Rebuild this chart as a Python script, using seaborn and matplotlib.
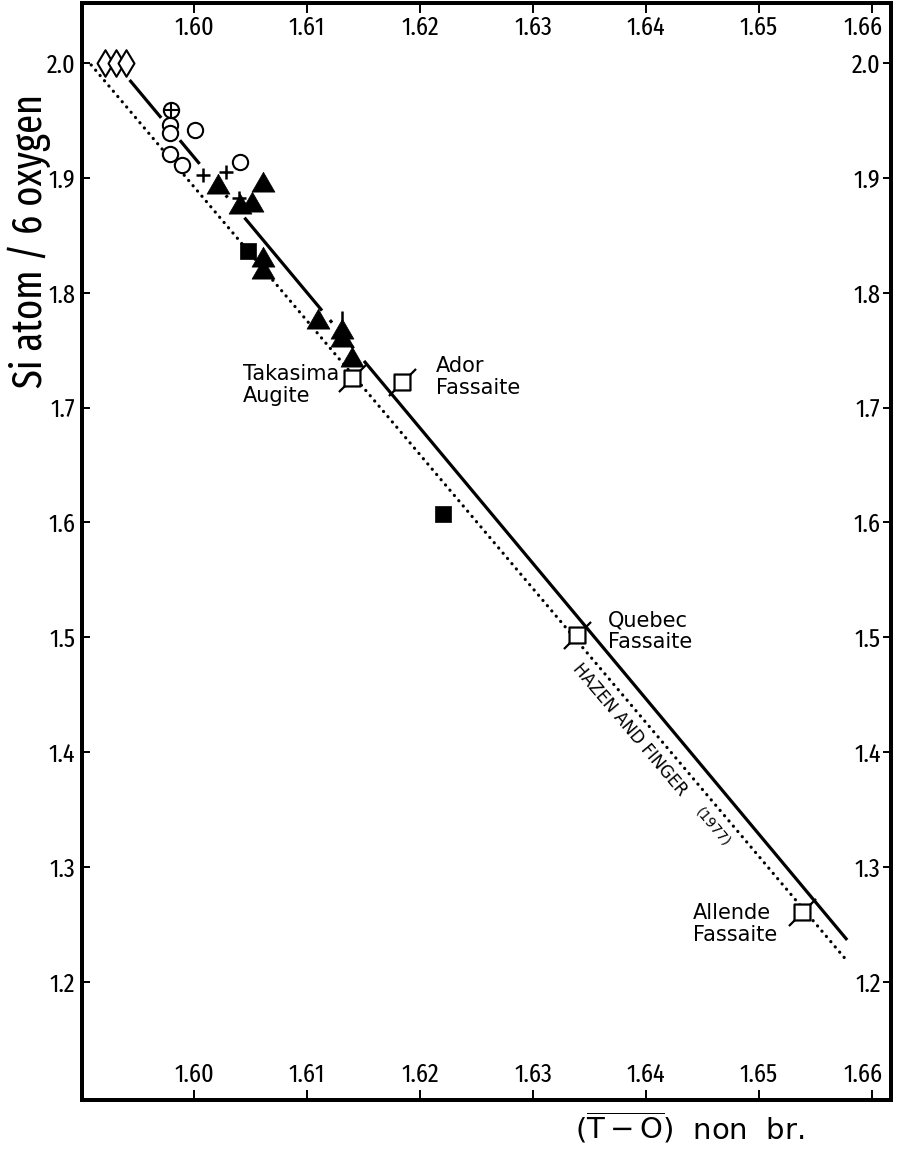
import os
import numpy as np
import pandas as pd
import matplotlib
matplotlib.use("Agg")
import matplotlib.pyplot as plt
from matplotlib import font_manager as fm
from matplotlib import transforms as mtrans
from matplotlib.path import Path
from matplotlib.markers import MarkerStyle
import seaborn as sns

# ---------------- data ----------------
# end-member (Si = 2.0) clinopyroxenes
diamond_x = [1.5921, 1.5931, 1.5940]
diamond_y = [2.000, 2.000, 2.000]
# open circles
circle_x = [1.5979, 1.5979, 1.6001, 1.5979, 1.5989, 1.6041]
circle_y = [1.946, 1.939, 1.942, 1.921, 1.911, 1.914]
# circle with cross
circplus_x = [1.5980]
circplus_y = [1.959]
# crosses
plus_x = [1.6008, 1.6028, 1.6040]
plus_y = [1.9025, 1.9054, 1.8822]
# single vertical bar
bar_x = [1.6131]
bar_y = [1.779]
# filled triangles
tri_x = [1.6021, 1.6061, 1.6041, 1.6051, 1.6061, 1.6061, 1.6110, 1.6131, 1.6131, 1.6140]
tri_y = [1.8923, 1.8938, 1.8749, 1.8764, 1.8285, 1.8184, 1.7748, 1.7661, 1.7589, 1.7415]
# filled squares
fsq_x = [1.6048, 1.6220]
fsq_y = [1.836, 1.607]
# named fassaites / augite (open squares)
named_labels = ["Takasima\nAugite", "Ador\nFassaite", "Quebec\nFassaite", "Allende\nFassaite"]
named_x = [1.6140, 1.6184, 1.6339, 1.6538]
named_y = [1.7255, 1.7226, 1.5021, 1.2613]
# regression line of this study and Hazen & Finger (1977) line
fit_x = [1.5943, 1.6578]
fit_y = [1.9852, 1.2366]
hf_x = [1.5909, 1.6576]
hf_y = [1.9983, 1.2206]
# axes ticks
x_ticks = [1.60, 1.61, 1.62, 1.63, 1.64, 1.65, 1.66]
x_ticklabels = ["1.60", "1.61", "1.62", "1.63", "1.64", "1.65", "1.66"]
y_ticks = [1.2, 1.3, 1.4, 1.5, 1.6, 1.7, 1.8, 1.9, 2.0]
y_ticklabels = ["1.2", "1.3", "1.4", "1.5", "1.6", "1.7", "1.8", "1.9", "2.0"]

# ---------------- style ----------------
sns.set_style("white")
plt.rcParams["font.family"] = ["DejaVu Sans"]
for key in ("text.color", "axes.labelcolor", "xtick.color", "ytick.color", "axes.edgecolor"):
    plt.rcParams[key] = "black"
plt.rcParams["mathtext.fontset"] = "dejavusans"
TXT = dict(fontfamily="DejaVu Sans", fontstretch="normal", color="black")


def narrow_font_file():
    """Return the narrowest regular-weight sans font file installed, if any."""
    skip = ("bold", "italic", "oblique", "light", "thin", "black", "medium", "heavy", "semibold")
    ranked = []
    for f in fm.fontManager.ttflist:
        base = os.path.basename(f.fname).lower()
        if any(w in base for w in skip) or "mono" in base or "serif" in base:
            continue
        if "extracondensed" in base or "ultracondensed" in base:
            rank = 0
        elif "narrow" in base:
            rank = 1
        elif "semicondensed" in base:
            rank = 3
        elif "condensed" in base:
            rank = 2 if "dejavu" not in base else 4
        else:
            continue
        ranked.append((rank, base, f.fname))
    if not ranked:
        return None, None
    ranked.sort()
    return ranked[0][2], ranked[0][0]


NARROW_FILE, NARROW_RANK = narrow_font_file()
very_narrow = NARROW_RANK is not None and NARROW_RANK <= 2


def narrow(size):
    if NARROW_FILE:
        return fm.FontProperties(fname=NARROW_FILE, size=size)
    return fm.FontProperties(family="DejaVu Sans", stretch="condensed", size=size)


tick_size = 19 if very_narrow else 17
ylabel_size = 30 if very_narrow else 25

fig = plt.figure(figsize=(8.97, 11.5), dpi=100)
W, H = 897.0, 1150.0
left_px, right_px, top_px, bot_px = 82, 891, 3, 1100
ax = fig.add_axes([left_px / W, 1 - bot_px / H, (right_px - left_px) / W, (bot_px - top_px) / H])
ax.set_xlim(1.590088, 1.66168)
ax.set_ylim(1.09728, 2.05223)
axr = ax.twinx()
axr.set_ylim(ax.get_ylim())

for a in (ax, axr):
    for sp in a.spines.values():
        sp.set_linewidth(2.8)
        sp.set_color("black")
    a.grid(False)

# ---------------- custom markers ----------------
tri_path = Path([(0, 1.1547), (-1, -0.57735), (1, -0.57735), (0, 1.1547)],
                [Path.MOVETO, Path.LINETO, Path.LINETO, Path.CLOSEPOLY])
tri_marker = MarkerStyle(tri_path)
sq_path = Path([(-1, -1), (1, -1), (1, 1), (-1, 1), (-1, -1),
                (1, 1), (1.7, 1.7), (-1, -1), (-1.7, -1.7)],
               [Path.MOVETO, Path.LINETO, Path.LINETO, Path.LINETO, Path.CLOSEPOLY,
                Path.MOVETO, Path.LINETO, Path.MOVETO, Path.LINETO])
sq_marker = MarkerStyle(sq_path)

# ---------------- lines ----------------
# dotted Hazen & Finger line
hf_df = pd.DataFrame({"x": hf_x, "y": hf_y})
sns.lineplot(data=hf_df, x="x", y="y", ax=ax, color="black", lw=2.3,
             linestyle=(0, (0.05, 2.1)), dash_capstyle="round", zorder=2)

# solid line, interrupted where it passes through the symbols
all_x = np.concatenate([diamond_x, circle_x, circplus_x, plus_x, bar_x, tri_x, fsq_x, named_x])
all_y = np.concatenate([diamond_y, circle_y, circplus_y, plus_y, bar_y, tri_y, fsq_y, named_y])
lx = np.linspace(fit_x[0], fit_x[1], 2000)
ly = np.interp(lx, fit_x, fit_y)
lp = ax.transData.transform(np.column_stack([lx, ly]))
mp = ax.transData.transform(np.column_stack([all_x, all_y]))
dist = np.min(np.hypot(lp[:, None, 0] - mp[None, :, 0], lp[:, None, 1] - mp[None, :, 1]), axis=1)
keep = dist > 11.5
seg = np.cumsum(np.r_[True, keep[1:] != keep[:-1]])
fit_df = pd.DataFrame({"x": lx[keep], "y": ly[keep], "seg": seg[keep]})
sns.lineplot(data=fit_df, x="x", y="y", units="seg", estimator=None, sort=False, ax=ax,
             color="black", lw=2.3, solid_capstyle="butt", zorder=2)

# ---------------- symbols ----------------
sns.scatterplot(x=diamond_x, y=diamond_y, ax=ax, marker="d", s=13.5 ** 2,
                color="white", edgecolor="black", linewidth=1.5, zorder=4)
sns.scatterplot(x=circle_x, y=circle_y, ax=ax, marker="o", s=11 ** 2,
                color="white", edgecolor="black", linewidth=1.5, zorder=4)
sns.scatterplot(x=circplus_x, y=circplus_y, ax=ax, marker="o", s=11 ** 2,
                color="white", edgecolor="black", linewidth=1.5, zorder=4)
sns.scatterplot(x=circplus_x, y=circplus_y, ax=ax, marker="+", s=11 ** 2,
                color="black", linewidth=1.5, zorder=5)
sns.scatterplot(x=plus_x, y=plus_y, ax=ax, marker="+", s=9.5 ** 2,
                color="black", linewidth=1.8, zorder=4)
sns.scatterplot(x=bar_x, y=bar_y, ax=ax, marker="|", s=9 ** 2,
                color="black", linewidth=1.8, zorder=4)
sns.scatterplot(x=tri_x, y=tri_y, ax=ax, marker=tri_marker, s=19 ** 2,
                color="black", edgecolor="black", linewidth=0.5, zorder=5)
sns.scatterplot(x=fsq_x, y=fsq_y, ax=ax, marker="s", s=12 ** 2,
                color="black", edgecolor="black", linewidth=0.5, zorder=4)
sns.scatterplot(x=named_x, y=named_y, ax=ax, marker=sq_marker, s=19.5 ** 2,
                color="white", edgecolor="black", linewidth=1.6, zorder=4)

# ---------------- annotations ----------------
label_pos = [(1.60434, 1.7197), (1.62142, 1.7268), (1.63664, 1.5054), (1.64416, 1.2505)]
for txt, (tx, ty) in zip(named_labels, label_pos):
    ax.text(tx, ty, txt, ha="left", va="center", fontsize=15, linespacing=1.12, **TXT)

p0, p1 = ax.transData.transform([(hf_x[0], hf_y[0]), (hf_x[1], hf_y[1])])
ang = np.degrees(np.arctan2(p1[1] - p0[1], p1[0] - p0[0]))
ax.text(1.63858, 1.4194, "HAZEN AND FINGER", rotation=ang, rotation_mode="anchor",
        ha="center", va="center", fontsize=12, **TXT)
ax.text(1.64593, 1.3349, "(1977)", rotation=ang, rotation_mode="anchor",
        ha="center", va="center", fontsize=10, **TXT)

# ---------------- axes ----------------
ax.set_xticks(x_ticks)
ax.set_xticklabels(x_ticklabels)
ax.set_yticks(y_ticks)
ax.set_yticklabels(y_ticklabels)
axr.set_yticks(y_ticks)
axr.set_yticklabels(y_ticklabels)

ax.tick_params(axis="x", direction="in", length=7, width=1.4, pad=-9,
               bottom=True, top=True, labelbottom=True, labeltop=True)
for t in ax.xaxis.get_major_ticks():
    t.label1.set_va("bottom")
    t.label2.set_va("top")
ax.tick_params(axis="y", direction="in", length=6, width=1.4, pad=5,
               left=True, labelleft=True, right=False, labelright=False)
axr.tick_params(axis="y", direction="in", length=6, width=1.4, pad=-7.5,
                right=True, labelright=True, left=False, labelleft=False)
for t in axr.yaxis.get_major_ticks():
    t.label2.set_ha("right")

tick_fp = narrow(tick_size)
for t in ax.xaxis.get_major_ticks() + ax.yaxis.get_major_ticks() + axr.yaxis.get_major_ticks():
    t.label1.set_fontproperties(tick_fp)
    t.label2.set_fontproperties(tick_fp)

# keep the last x labels clear of the right frame
fig.canvas.draw()
last = ax.xaxis.get_major_ticks()[-1]
for lab in (last.label1, last.label2):
    bb = lab.get_window_extent()
    overshoot = bb.x1 - (ax.get_window_extent().x1 - 8)
    if overshoot > 0:
        lab.set_transform(lab.get_transform()
                          + mtrans.ScaledTranslation(-overshoot / fig.dpi, 0, fig.dpi_scale_trans))

ax.set_ylabel("Si atom / 6 oxygen", fontproperties=narrow(ylabel_size), color="black")
ax.yaxis.label.set_va("center")
ax.yaxis.set_label_coords((29 - left_px) / (right_px - left_px), (bot_px - 241) / (bot_px - top_px))
ax.set_xlabel(r"$(\overline{\mathrm{T-O}})$  non  br.", fontsize=21, **TXT)
ax.xaxis.label.set_va("center")
ax.xaxis.set_label_coords((690 - left_px) / (right_px - left_px), (bot_px - 1128) / (bot_px - top_px))

fig.savefig("out.png", dpi=100)
